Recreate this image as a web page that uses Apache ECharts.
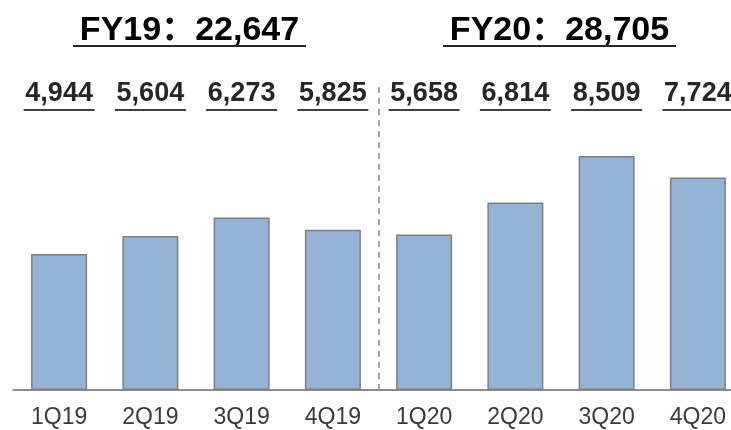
<!DOCTYPE html>
<html>
<head>
<meta charset="utf-8">
<script src="https://cdn.jsdelivr.net/npm/echarts@6/dist/echarts.min.js"></script>
<style>html,body{margin:0;padding:0;background:#fff}#c{width:731px;height:430px}</style>
</head>
<body>
<div id="c"></div>
<script>
const categories = ['1Q19','2Q19','3Q19','4Q19','1Q20','2Q20','3Q20','4Q20'];
const values = [4944, 5604, 6273, 5825, 5658, 6814, 8509, 7724];
const fyTitles = ['FY19：22,647', 'FY20：28,705'];
const dividerAt = 3.5;

const FONT = "'Liberation Sans', Arial, 'Noto Sans CJK SC', sans-serif";
const fmt = v => v.toLocaleString('en-US');

const chart = echarts.init(document.getElementById('c'), null, {renderer: 'canvas'});

const titleRich = {
  t: {fontSize: 34, fontWeight: 'bold', color: '#262626', fontFamily: FONT, lineHeight: 26},
  u: {width: 233, height: 2, lineHeight: 4, fontSize: 1, backgroundColor: '#262626'}
};

chart.setOption({
  animation: false,
  backgroundColor: '#ffffff',
  grid: [
    {left: 13.5, width: 730, top: 82, bottom: 40, outerBoundsMode: 'none', containLabel: false},
    {left: 13.5, width: 730, top: 112, bottom: 40, outerBoundsMode: 'none', containLabel: false}
  ],
  xAxis: [
    {
      type: 'category', gridIndex: 0, data: categories,
      axisLine: {lineStyle: {color: '#8c8c8c', width: 2}},
      axisTick: {show: false},
      axisLabel: {fontSize: 23, color: '#3a3a3a', fontFamily: FONT, margin: 16}
    },
    {
      type: 'value', gridIndex: 0, min: -0.5, max: 7.5, show: false
    },
    {
      type: 'category', gridIndex: 1, position: 'top', data: values.map(fmt),
      axisLine: {show: false}, axisTick: {show: false},
      axisLabel: {
        margin: 0,
        formatter: v => '{v|' + v + '}\n{u| }',
        rich: {
          v: {fontSize: 27, fontWeight: 'bold', color: '#262626', fontFamily: FONT, lineHeight: 28},
          u: {width: 71, height: 2, lineHeight: 4, fontSize: 1, backgroundColor: '#404040'}
        }
      }
    }
  ],
  yAxis: [
    {type: 'value', gridIndex: 0, min: 0, max: 11200, show: false},
    {type: 'value', gridIndex: 1, min: 0, max: 1, show: false}
  ],
  series: [
    {
      type: 'bar', xAxisIndex: 0, yAxisIndex: 0, data: values,
      barWidth: 56,
      itemStyle: {color: '#95b3d7', borderColor: '#7f7f7f', borderWidth: 1.5}
    },
    {
      type: 'line', xAxisIndex: 1, yAxisIndex: 0, data: [],
      markLine: {
        silent: true, symbol: 'none', label: {show: false},
        lineStyle: {color: '#8a8a8a', type: [6, 5], width: 1.5},
        data: [{xAxis: dividerAt}]
      }
    },
    {
      type: 'bar', xAxisIndex: 2, yAxisIndex: 1, data: [], silent: true
    }
  ],
  graphic: [
    {type: 'text', x: 189.5, y: 18, style: {text: '{t|' + fyTitles[0] + '}\n{u| }', rich: titleRich, align: 'center', verticalAlign: 'top'}},
    {type: 'text', x: 559.5, y: 18, style: {text: '{t|' + fyTitles[1] + '}\n{u| }', rich: titleRich, align: 'center', verticalAlign: 'top'}}
  ]
});
</script>
</body>
</html>
